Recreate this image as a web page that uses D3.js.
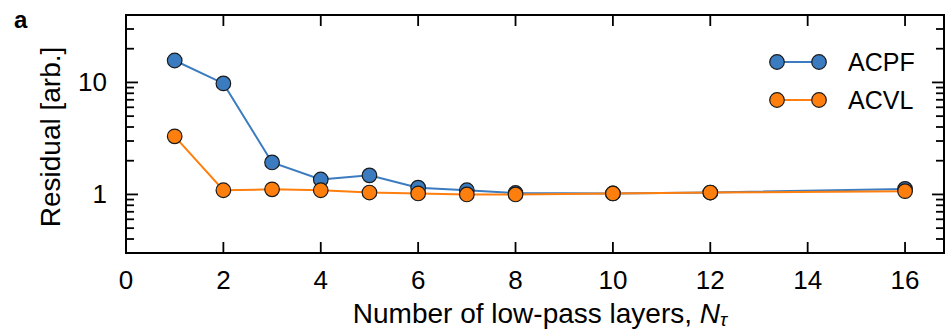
<!DOCTYPE html>
<html>
<head>
<meta charset="utf-8">
<script src="https://cdn.jsdelivr.net/npm/d3@7"></script>
<style>
  body { margin: 0; background: #fff; }
  svg text { font-family: "Liberation Sans", Arial, Helvetica, sans-serif; fill: #000; }
</style>
</head>
<body>
<div id="chart"></div>
<script>
// data
var layers = [1, 2, 3, 4, 5, 6, 7, 8, 10, 12, 16];
var acpf = [15.7, 9.8, 1.93, 1.36, 1.48, 1.15, 1.09, 1.03, 1.02, 1.04, 1.12];
var acvl = [3.3, 1.09, 1.11, 1.09, 1.04, 1.02, 1.0, 1.0, 1.02, 1.04, 1.07];
var seriesNames = ["ACPF", "ACVL"];
var seriesColors = ["#3b7bbf", "#ff7f0e"];
var xTicks = [0, 2, 4, 6, 8, 10, 12, 14, 16];
var yTicks = [1, 10];

var W = 945, H = 330;
var margin = { top: 15, right: 1, bottom: 77, left: 126 };

var svg = d3.select("#chart").append("svg")
    .attr("width", W)
    .attr("height", H);

var x = d3.scaleLinear()
    .domain([0, 16.8])
    .range([margin.left, W - margin.right]);

var y = d3.scaleLog()
    .domain([0.3, 40])
    .range([H - margin.bottom, margin.top]);

var x0 = x.range()[0], x1 = x.range()[1];
var y0 = y.range()[0], y1 = y.range()[1];

/**
 * ticks (inward), top and bottom / left and right
 */
var tickG = svg.append("g").attr("stroke", "#000").attr("stroke-width", 1.8);

xTicks.forEach(function(t) {
    tickG.append("line").attr("x1", x(t)).attr("x2", x(t)).attr("y1", y0).attr("y2", y0 - 11);
    tickG.append("line").attr("x1", x(t)).attr("x2", x(t)).attr("y1", y1).attr("y2", y1 + 11);
});

var minor = [];
[0.1, 1, 10].forEach(function(dec) {
    for (var k = 2; k <= 9; k++) {
        var v = k * dec;
        if (v > 0.3 && v < 40) minor.push(v);
    }
});
minor.forEach(function(v) {
    tickG.append("line").attr("x1", x0).attr("x2", x0 + 8).attr("y1", y(v)).attr("y2", y(v));
    tickG.append("line").attr("x1", x1).attr("x2", x1 - 8).attr("y1", y(v)).attr("y2", y(v));
});
yTicks.forEach(function(v) {
    tickG.append("line").attr("x1", x0).attr("x2", x0 + 12).attr("y1", y(v)).attr("y2", y(v));
    tickG.append("line").attr("x1", x1).attr("x2", x1 - 12).attr("y1", y(v)).attr("y2", y(v));
});

// frame
svg.append("rect")
    .attr("x", x0).attr("y", y1)
    .attr("width", x1 - x0).attr("height", y0 - y1)
    .attr("fill", "none")
    .attr("stroke", "#000")
    .attr("stroke-width", 2);

// tick labels
svg.append("g").selectAll("text")
    .data(xTicks)
    .join("text")
    .attr("x", function(d) { return x(d); })
    .attr("y", 289)
    .attr("text-anchor", "middle")
    .attr("font-size", 26)
    .text(function(d) { return d; });

svg.append("g").selectAll("text")
    .data(yTicks)
    .join("text")
    .attr("x", 107)
    .attr("y", function(d) { return y(d) + 9; })
    .attr("text-anchor", "end")
    .attr("font-size", 26)
    .text(function(d) { return d; });

// axis titles
var xt = svg.append("text")
    .attr("x", 540)
    .attr("y", 323)
    .attr("text-anchor", "middle")
    .attr("font-size", 28);
xt.append("tspan").text("Number of low-pass layers, ");
xt.append("tspan").attr("font-style", "italic").text("N");
xt.append("tspan").attr("font-style", "italic").attr("font-size", 19).attr("dy", 3).text("τ");

svg.append("text")
    .attr("transform", "translate(60,137) rotate(-90)")
    .attr("text-anchor", "middle")
    .attr("font-size", 28)
    .text("Residual [arb.]");

svg.append("text")
    .attr("x", 14)
    .attr("y", 28)
    .attr("font-size", 24)
    .attr("font-weight", "bold")
    .text("a");

/**
 * series
 */
var line = d3.line()
    .x(function(d) { return x(d[0]); })
    .y(function(d) { return y(d[1]); });

[acpf, acvl].forEach(function(vals, s) {
    var pts = layers.map(function(l, i) { return [l, vals[i]]; });
    var g = svg.append("g");
    g.append("path")
        .datum(pts)
        .attr("d", line)
        .attr("fill", "none")
        .attr("stroke", seriesColors[s])
        .attr("stroke-width", 2);
    g.selectAll("circle")
        .data(pts)
        .join("circle")
        .attr("cx", function(d) { return x(d[0]); })
        .attr("cy", function(d) { return y(d[1]); })
        .attr("r", 7.3)
        .attr("fill", seriesColors[s])
        .attr("stroke", "#1a1a1a")
        .attr("stroke-width", 1.2);
});

// legend
var legend = svg.append("g");
seriesNames.forEach(function(name, i) {
    var ly = 62 + i * 38;
    legend.append("line")
        .attr("x1", 777).attr("x2", 819)
        .attr("y1", ly).attr("y2", ly)
        .attr("stroke", seriesColors[i])
        .attr("stroke-width", 2);
    [777, 819].forEach(function(cx) {
        legend.append("circle")
            .attr("cx", cx).attr("cy", ly).attr("r", 7.3)
            .attr("fill", seriesColors[i])
            .attr("stroke", "#1a1a1a")
            .attr("stroke-width", 1.2);
    });
    legend.append("text")
        .attr("x", 848)
        .attr("y", ly + 9)
        .attr("font-size", 25)
        .text(name);
});
</script>
</body>
</html>
